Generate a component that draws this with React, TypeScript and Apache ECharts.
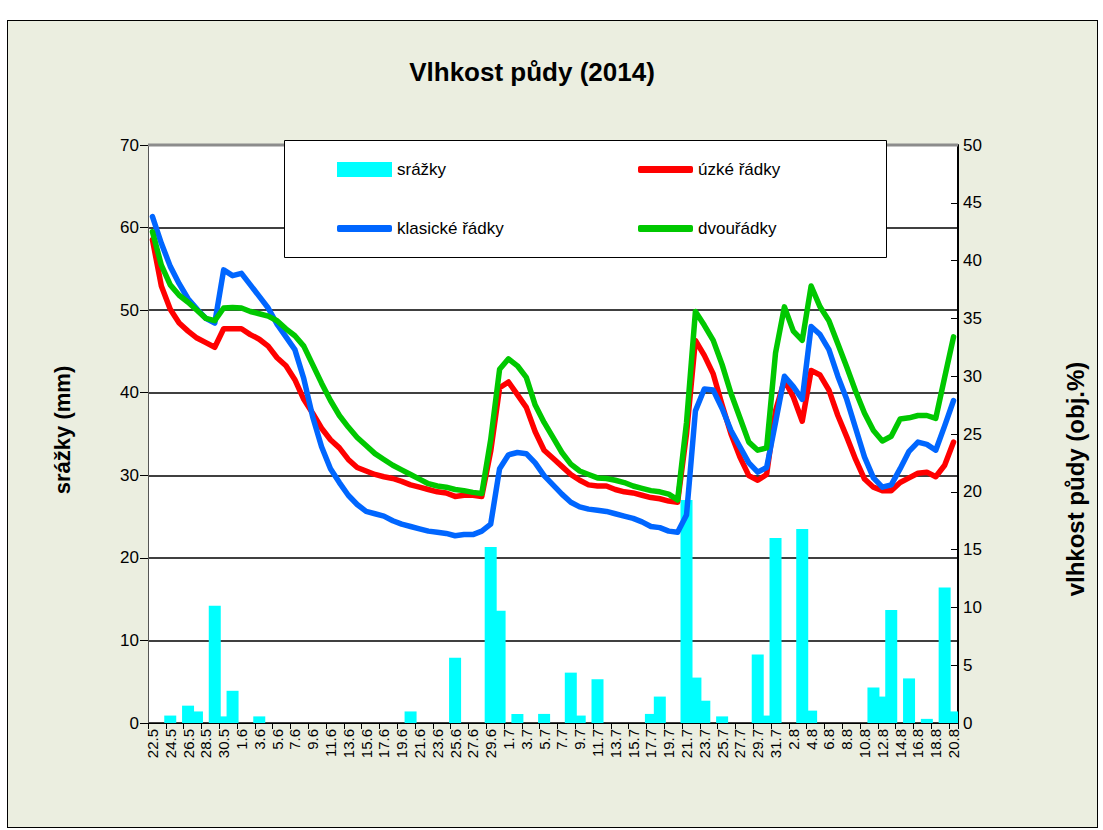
import React, { useEffect, useRef } from "react";
import * as echarts from "echarts";

const categories = [
  "22.5", "23.5", "24.5", "25.5", "26.5", "27.5", "28.5", "29.5", "30.5", "31.5",
  "1.6", "2.6", "3.6", "4.6", "5.6", "6.6", "7.6", "8.6", "9.6", "10.6",
  "11.6", "12.6", "13.6", "14.6", "15.6", "16.6", "17.6", "18.6", "19.6", "20.6",
  "21.6", "22.6", "23.6", "24.6", "25.6", "26.6", "27.6", "28.6", "29.6", "30.6",
  "1.7", "2.7", "3.7", "4.7", "5.7", "6.7", "7.7", "8.7", "9.7", "10.7",
  "11.7", "12.7", "13.7", "14.7", "15.7", "16.7", "17.7", "18.7", "19.7", "20.7",
  "21.7", "22.7", "23.7", "24.7", "25.7", "26.7", "27.7", "28.7", "29.7", "30.7",
  "31.7", "1.8", "2.8", "3.8", "4.8", "5.8", "6.8", "7.8", "8.8", "9.8",
  "10.8", "11.8", "12.8", "13.8", "14.8", "15.8", "16.8", "17.8", "18.8", "19.8",
  "20.8",
];

// srážky (mm) – left axis
const srazky = [
  0, 0, 0.9, 0, 2.1, 1.4, 0, 14.2, 0.8, 3.9,
  0, 0, 0.8, 0, 0, 0, 0, 0, 0, 0,
  0, 0, 0, 0, 0, 0, 0, 0, 0, 1.4,
  0, 0, 0, 0, 7.9, 0, 0, 0, 21.3, 13.6,
  0, 1.1, 0, 0, 1.1, 0, 0, 6.1, 0.9, 0,
  5.3, 0, 0, 0, 0, 0, 1.1, 3.2, 0, 0,
  27.0, 5.5, 2.7, 0, 0.8, 0, 0, 0, 8.3, 0.9,
  22.4, 0, 0, 23.5, 1.5, 0, 0, 0, 0, 0,
  0, 4.3, 3.2, 13.7, 0, 5.4, 0, 0.5, 0, 16.4,
  1.4,
];

// vlhkost půdy (obj.%) – right axis
const uzkeRadky = [
  41.8, 37.8, 35.8, 34.6, 33.9, 33.3, 32.9, 32.5, 34.1, 34.1,
  34.1, 33.6, 33.2, 32.6, 31.6, 30.9, 29.7, 28.0, 26.8, 25.5,
  24.5, 23.8, 22.8, 22.1, 21.8, 21.5, 21.3, 21.15, 20.9, 20.6,
  20.4, 20.2, 20.0, 19.9, 19.6, 19.7, 19.7, 19.6, 23.5, 29.0,
  29.5, 28.4, 27.3, 25.2, 23.6, 22.9, 22.2, 21.5, 21.0, 20.6,
  20.5, 20.5, 20.2, 20.0, 19.9, 19.7, 19.5, 19.4, 19.2, 19.1,
  25.0, 33.1, 31.8, 30.2, 27.5, 25.0, 23.0, 21.4, 21.0, 21.5,
  27.0, 29.65, 28.2, 26.1, 30.5, 30.1, 28.8, 26.6, 24.75, 22.8,
  21.1, 20.4, 20.1, 20.1, 20.8, 21.2, 21.6, 21.7, 21.3, 22.3,
  24.3,
];

const klasickeRadky = [
  43.8, 41.5, 39.5, 38.0, 36.7, 35.8, 35.0, 34.6, 39.2, 38.7,
  38.9, 37.9, 36.9, 35.9, 34.5, 33.4, 32.3, 29.8, 26.5, 23.9,
  22.0, 20.8, 19.7, 18.9, 18.3, 18.1, 17.9, 17.5, 17.2, 17.0,
  16.8, 16.6, 16.5, 16.4, 16.2, 16.3, 16.3, 16.6, 17.2, 22.0,
  23.2, 23.4, 23.3, 22.5, 21.4, 20.6, 19.8, 19.1, 18.7, 18.5,
  18.4, 18.3, 18.1, 17.9, 17.7, 17.4, 17.0, 16.9, 16.6, 16.5,
  18.0, 27.0, 28.9, 28.8, 27.2, 25.3, 23.9, 22.5, 21.7, 22.1,
  26.0, 30.0, 29.1, 28.0, 34.3, 33.6, 32.3, 30.0, 28.0, 25.5,
  23.0, 21.2, 20.4, 20.6, 22.0, 23.5, 24.3, 24.1, 23.6, 25.7,
  27.9,
];

const dvouradky = [
  42.5, 39.6, 37.9, 37.0, 36.4, 35.7, 35.0, 34.8, 35.9, 35.95,
  35.9, 35.6, 35.4, 35.2, 34.8, 34.1, 33.5, 32.6, 31.0, 29.4,
  27.9, 26.6, 25.6, 24.7, 24.0, 23.3, 22.8, 22.3, 21.9, 21.5,
  21.1, 20.7, 20.5, 20.4, 20.2, 20.1, 19.95, 19.85, 24.5, 30.6,
  31.5, 30.9, 29.9, 27.5, 26.0, 24.7, 23.4, 22.4, 21.8, 21.5,
  21.2, 21.15, 21.0, 20.8, 20.5, 20.3, 20.1, 20.0, 19.8, 19.3,
  26.0, 35.6, 34.4, 33.1, 31.0, 28.5, 26.4, 24.3, 23.6, 23.8,
  32.0, 36.0, 33.9, 33.1, 37.8, 36.0, 34.8, 32.8, 30.8, 28.7,
  26.8, 25.3, 24.4, 24.8, 26.3, 26.4, 26.6, 26.6, 26.35, 29.9,
  33.4,
];

const FONT = "'Liberation Sans', Arial, Helvetica, sans-serif";

export default function App() {
  const ref = useRef<HTMLDivElement>(null);

  useEffect(() => {
    if (!ref.current) return;
    const chart = echarts.init(ref.current, null, { renderer: "svg" });

    const lineSeries = (name: string, data: number[], color: string) => ({
      name,
      type: "line",
      yAxisIndex: 1,
      data,
      symbol: "none",
      smooth: false,
      itemStyle: { color },
      lineStyle: { color, width: 5.5, cap: "round", join: "round" },
    });

    const legendBase = {
      padding: 0,
      itemWidth: 55,
      selectedMode: false,
      textStyle: { fontSize: 17, color: "#000", fontFamily: FONT },
      z: 10,
    };

    chart.setOption({
      animation: false,
      textStyle: { fontFamily: FONT },
      grid: {
        left: 140,
        right: 139,
        top: 124,
        bottom: 104,
        show: true,
        backgroundColor: "#ffffff",
        borderWidth: 0,
      },
      graphic: [
        {
          type: "line",
          z: 1,
          silent: true,
          shape: { x1: 140, y1: 124, x2: 950, y2: 124 },
          style: { stroke: "#8c8c8c", lineWidth: 3 },
        },
        {
          type: "rect",
          z: 5,
          silent: true,
          shape: { x: 276.5, y: 119.5, width: 602, height: 117 },
          style: { fill: "#ffffff", stroke: "#000", lineWidth: 1 },
        },
        {
          type: "text",
          x: 524,
          y: 51,
          silent: true,
          style: {
            text: "Vlhkost půdy (2014)",
            fontSize: 26,
            fontWeight: "bold",
            fontFamily: FONT,
            fill: "#000",
            align: "center",
            verticalAlign: "middle",
          },
        },
        {
          type: "text",
          x: 54,
          y: 409,
          rotation: Math.PI / 2,
          silent: true,
          style: {
            text: "srážky (mm)",
            fontSize: 22,
            fontWeight: "bold",
            fontFamily: FONT,
            fill: "#000",
            align: "center",
            verticalAlign: "middle",
          },
        },
        {
          type: "text",
          x: 1067,
          y: 458,
          rotation: Math.PI / 2,
          silent: true,
          style: {
            text: "vlhkost půdy (obj.%)",
            fontSize: 24,
            fontWeight: "bold",
            fontFamily: FONT,
            fill: "#000",
            align: "center",
            verticalAlign: "middle",
          },
        },
      ],
      legend: [
        { ...legendBase, data: ["srážky"], left: 329, top: 140, itemHeight: 15, icon: "rect" },
        { ...legendBase, data: ["úzké řádky"], left: 630, top: 140, itemHeight: 7, icon: "roundRect" },
        { ...legendBase, data: ["klasické řádky"], left: 329, top: 199, itemHeight: 7, icon: "roundRect" },
        { ...legendBase, data: ["dvouřádky"], left: 630, top: 199, itemHeight: 7, icon: "roundRect" },
      ],
      xAxis: {
        type: "category",
        data: categories,
        boundaryGap: true,
        axisLine: { show: true, lineStyle: { color: "#000", width: 1 } },
        axisTick: { show: true, interval: 1, length: 6, lineStyle: { color: "#000" } },
        axisLabel: {
          interval: 1,
          rotate: 90,
          fontSize: 15,
          color: "#000",
          margin: 6,
          padding: [0, 0, 7, 0],
        },
        splitLine: { show: false },
      },
      yAxis: [
        {
          type: "value",
          min: 0,
          max: 70,
          interval: 10,
          position: "left",
          axisLine: { show: true, lineStyle: { color: "#555", width: 1 } },
          axisTick: { show: true, length: 8, lineStyle: { color: "#000" } },
          axisLabel: { fontSize: 17, color: "#000", margin: 9 },
          splitLine: { show: true, lineStyle: { color: "#000", width: 1.5 } },
        },
        {
          type: "value",
          min: 0,
          max: 50,
          interval: 5,
          position: "right",
          axisLine: { show: true, lineStyle: { color: "#000", width: 2 } },
          axisTick: { show: true, inside: true, length: 7, lineStyle: { color: "#000" } },
          axisLabel: { fontSize: 17, color: "#000", margin: 5 },
          splitLine: { show: false },
        },
      ],
      series: [
        {
          name: "srážky",
          type: "bar",
          yAxisIndex: 0,
          data: srazky,
          barWidth: 12,
          itemStyle: { color: "#00FFFF" },
        },
        lineSeries("úzké řádky", uzkeRadky, "#FF0000"),
        lineSeries("klasické řádky", klasickeRadky, "#0066FF"),
        lineSeries("dvouřádky", dvouradky, "#00C800"),
      ],
    });

    return () => chart.dispose();
  }, []);

  return (
    <div
      style={{
        position: "absolute",
        left: 0,
        top: 0,
        width: 1103,
        height: 830,
        background: "#ffffff",
      }}
    >
      <div
        style={{
          position: "absolute",
          left: 7,
          top: 20,
          width: 1091,
          height: 808,
          border: "1px solid #000",
          boxSizing: "border-box",
          background: "#EBEEE0",
        }}
      >
        <div ref={ref} style={{ width: 1089, height: 806 }} />
      </div>
    </div>
  );
}
